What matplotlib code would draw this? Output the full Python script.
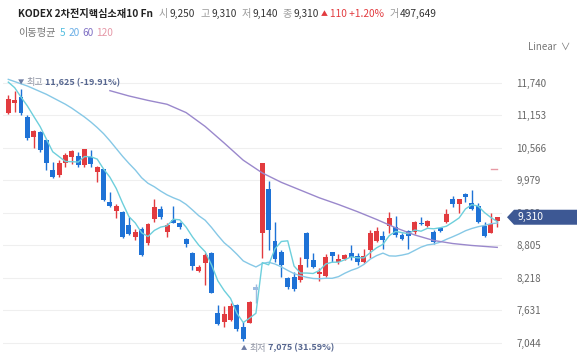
import numpy as np
import matplotlib
matplotlib.use("Agg")
import matplotlib.pyplot as plt
from matplotlib.patches import Polygon

plt.rcParams['font.family'] = ['Noto Sans CJK KR', 'DejaVu Sans']

# === daily candles ===
opens = [11198, 11379, 11487, 11115, 10754, 10855, 10705, 10163, 10073, 10284,
         10404, 10416, 10254, 10392, 10133, 10176, 9591, 9428, 9410, 9170,
         8948, 9092, 8840, 9273, 9454, 9049, 9260, 9200, 8912, 8670,
         8345, 8489, 8670, 7575, 7424, 7454, 7725, 7333, 7406, 8056,
         9020, 9815, 8887, 8688, 8208, 8236, 8177, 9031, 8538, 8285,
         8249, 8688, 8507, 8551, 8670, 8610, 8507, 8719, 8887, 8972,
         9152, 9128, 8990, 9067, 9049, 9212, 9152, 9049, 9110, 9230,
         9634, 9549, 9724, 9573, 9513, 9152, 9031, 9250]
highs = [11518, 11590, 11625, 11157, 10886, 10870, 10723, 10313, 10344, 10465,
         10525, 10494, 10550, 10525, 10236, 10190, 9771, 9550, 9420, 9309,
         9092, 9140, 9200, 9634, 9513, 9200, 9513, 9230, 8930, 8688,
         8447, 8658, 8680, 7725, 7707, 7767, 7735, 7424, 7795, 8105,
         10295, 9970, 9230, 8719, 8236, 8327, 8587, 9049, 8670, 8388,
         8646, 8690, 8646, 8646, 8809, 8658, 8731, 9080, 9128, 9067,
         9410, 9333, 9020, 9080, 9248, 9320, 9260, 9080, 9140, 9454,
         9694, 9634, 9742, 9802, 9562, 9230, 9381, 9310]
lows = [11180, 11216, 11157, 10705, 10555, 10494, 10163, 10013, 10042, 10223,
        10272, 10223, 10223, 10223, 9952, 9610, 9490, 9291, 8930, 8990,
        8899, 8610, 8809, 9230, 9273, 8948, 9200, 9092, 8778, 8358,
        8327, 8087, 7937, 7364, 7333, 7442, 7261, 7075, 7395, 7756,
        8569, 8719, 8507, 8236, 8020, 7984, 8146, 8417, 8388, 8164,
        8236, 8507, 8465, 8540, 8538, 8448, 8478, 8569, 8869, 8731,
        9031, 8960, 8899, 8731, 9008, 9170, 9128, 8827, 9049, 9212,
        9500, 9392, 9591, 9441, 9212, 8948, 9020, 9140]
closes = [11440, 11428, 11187, 10736, 10873, 10525, 10284, 10042, 10295, 10434,
          10512, 10254, 10537, 10272, 10223, 9622, 9513, 9513, 8948, 9008,
          9049, 8628, 9183, 9490, 9309, 9170, 9212, 9140, 8827, 8430,
          8417, 8628, 7947, 7382, 7557, 7707, 7286, 7106, 7785, 7996,
          10284, 9080, 8551, 8448, 8056, 8009, 8448, 8551, 8406, 8327,
          8598, 8610, 8551, 8628, 8587, 8507, 8610, 9020, 9067, 8900,
          9291, 8990, 8912, 8972, 9230, 9188, 9248, 8869, 9067, 9369,
          9549, 9634, 9681, 9454, 9230, 8972, 9188, 9310]

# === moving averages ===
ma5 = [11750, 11650, 11480, 11320, 11133, 10950, 10721, 10492, 10404, 10316,
       10313, 10307, 10406, 10402, 10360, 10182, 10033, 9829, 9564, 9321,
       9206, 9029, 8963, 9072, 9132, 9156, 9273, 9264, 9132, 8956,
       8805, 8688, 8450, 8161, 7986, 7844, 7576, 7408, 7488, 7576,
       8491, 8450, 8739, 8872, 8884, 8429, 8302, 8302, 8294, 8348,
       8466, 8498, 8498, 8543, 8595, 8577, 8577, 8670, 8758, 8821,
       8978, 9054, 9032, 9013, 9079, 9058, 9110, 9101, 9120, 9148,
       9220, 9298, 9460, 9537, 9510, 9394, 9305, 9231]
ma20 = [11800, 11760, 11720, 11680, 11630, 11580, 11530, 11470, 11410, 11350,
        11280, 11200, 11120, 11030, 10930, 10820, 10690, 10550, 10410, 10282,
        10163, 10023, 9923, 9860, 9782, 9714, 9661, 9616, 9542, 9442,
        9337, 9256, 9126, 8982, 8849, 8753, 8642, 8521, 8463, 8412,
        8474, 8497, 8465, 8413, 8350, 8292, 8254, 8225, 8204, 8199,
        8208, 8207, 8237, 8299, 8351, 8391, 8457, 8553, 8617, 8662,
        8612, 8608, 8626, 8652, 8711, 8770, 8810, 8826, 8859, 8911,
        8958, 9009, 9066, 9107, 9139, 9163, 9192, 9206]
ma60_idx = [16, 19, 22, 25, 28, 31, 34, 37, 40, 43, 46, 49, 52, 55, 58, 61, 64, 67, 70, 73, 77]
ma60 = [11596, 11500, 11420, 11350, 11200, 10950, 10650, 10340, 10110, 9940, 9800,
        9660, 9540, 9410, 9270, 9120, 8990, 8890, 8835, 8800, 8766]
ma120_idx = [76, 77]
ma120 = [10190, 10190]

yticks = [7044, 7631, 8218, 8805, 9392, 9979, 10566, 11153, 11740]

RED = '#e23b3f'
BLUE = '#1e72d6'
C5, C20, C60, C120 = '#6dcfdc', '#86c8e6', '#9a88cc', '#e79aa4'

W, H = 580, 359
fig = plt.figure(figsize=(W / 100, H / 100), dpi=100)
ax = fig.add_axes([3 / W, 1 - 355 / H, 499 / W, 285 / H])
ax.set_xlim(-0.835, 77.75)
ax.set_ylim(6822, 11969)

o = np.array(opens); c = np.array(closes)
idx = np.arange(len(c))
cols = np.where(c >= o, RED, BLUE).astype(object)
cols[39] = '#9dbbe0'
ax.vlines(idx, lows, highs, colors=list(cols), lw=1.0, zorder=3)
ax.bar(idx, np.maximum(np.abs(c - o), 18), bottom=np.minimum(o, c), width=0.78,
       color=list(cols), lw=0, zorder=3)

ax.plot(idx, ma20, color=C20, lw=1.0, zorder=4)
ax.plot(idx, ma5, color=C5, lw=1.0, zorder=4)
ax.plot(ma60_idx, ma60, color=C60, lw=1.0, zorder=4)
ax.plot(ma120_idx, ma120, color=C120, lw=1.0, zorder=4)

ax.set_yticks(yticks)
ax.set_yticklabels([f"{t:,}" for t in yticks])
ax.yaxis.tick_right()
ax.tick_params(axis='y', length=0, pad=10.5, labelsize=7, labelcolor='#666666')
ax.set_xticks([])
ax.grid(axis='y', color='#efefef', lw=0.8)
ax.set_axisbelow(True)
for s in ax.spines.values():
    s.set_visible(False)

renderer = fig.canvas.get_renderer()


def run_text(x, y, parts, fontsize):
    for s, kw, gap in parts:
        opts = dict(fontsize=fontsize, va='center', ha='left')
        opts.update(kw)
        t = fig.text(x / W, 1 - y / H, s, **opts)
        x += t.get_window_extent(renderer).width + gap
    return x


fs = 7.3
g, d = '#9a9a9a', '#333333'
run_text(18, 14, [
    ("KODEX 2차전지핵심소재10 Fn", dict(weight='bold', color='#222222'), 6),
    ("시", dict(color=g), 1.5), ("9,250", dict(color=d), 5),
    ("고", dict(color=g), 1.5), ("9,310", dict(color=d), 5),
    ("저", dict(color=g), 1.5), ("9,140", dict(color=d), 5),
    ("종", dict(color=g), 1.5), ("9,310", dict(color=d), 2),
    ("▲", dict(color=RED, fontsize=5), 2), ("110 +1.20%", dict(color=RED), 5),
    ("거", dict(color=g), 1.5), ("497,649", dict(color=d), 0),
], fs)
run_text(18, 33, [
    ("이동평균", dict(color='#777777'), 4),
    ("5", dict(color='#56bfe0'), 3), ("20", dict(color='#6aaee6'), 3),
    ("60", dict(color='#7f6fc4'), 3), ("120", dict(color='#e597a6'), 0),
], fs)
fig.text(528 / W, 1 - 47 / H, "Linear  ∨", fontsize=7, color='#777777', va='center', ha='left')

# high / low markers
run_text(18, 83, [
    ("▼", dict(color='#6c7ba3', fontsize=4.5), 2),
    ("최고", dict(color='#8b90a0'), 2),
    ("11,625 (-19.91%)", dict(color='#56668f', weight='bold'), 0),
], 6.5)
run_text(241, 348, [
    ("▲", dict(color='#6c7ba3', fontsize=4.5), 2),
    ("최저", dict(color='#8b90a0'), 2),
    ("7,075 (31.59%)", dict(color='#56668f', weight='bold'), 0),
], 6.5)

# current price tag
ty = H - ax.transData.transform((0, closes[-1]))[1]
pts = [(507, ty), (514, ty - 7.5), (577, ty - 7.5), (577, ty + 7.5), (514, ty + 7.5)]
tag = Polygon([(px / W, 1 - py / H) for px, py in pts], closed=True,
              transform=fig.transFigure, facecolor='#3d5894', edgecolor='none', zorder=10)
fig.patches.append(tag)
fig.text(517 / W, 1 - ty / H, f"{closes[-1]:,}", color='white', fontsize=7.5,
         va='center', ha='left', zorder=11)

fig.savefig("out.png", dpi=100)
